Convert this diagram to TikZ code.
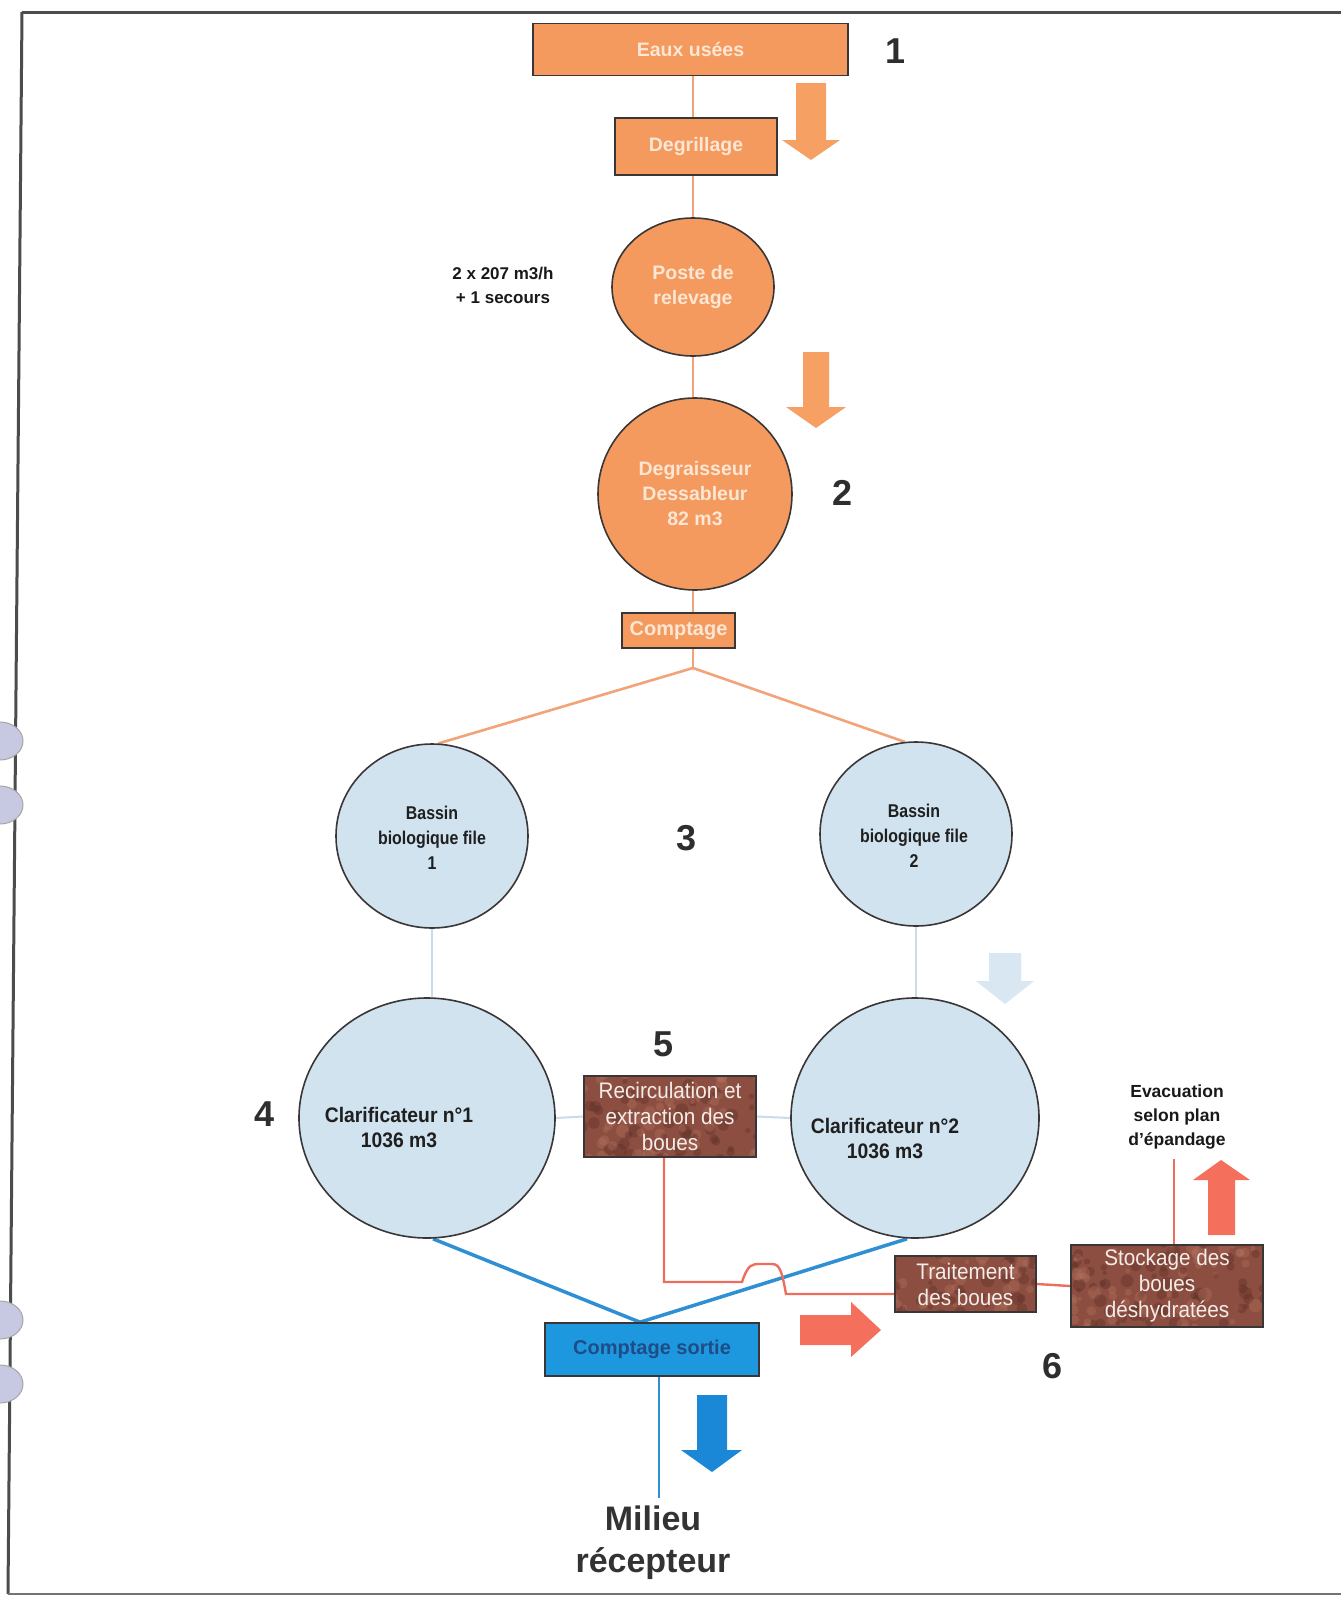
\documentclass[tikz,border=0pt]{standalone}
\usepackage{fontspec}
\setmainfont{Liberation Sans}
\newfontfamily\condf[FakeStretch=0.86]{Liberation Sans}
\newfontfamily\condg[FakeStretch=0.92]{Liberation Sans}
\usetikzlibrary{shapes.geometric,calc}
\pgfdeclarelayer{bg}
\pgfdeclarelayer{paper}
\pgfsetlayers{paper,bg,main}

\definecolor{org}{HTML}{F49A5E}
\definecolor{orgline}{HTML}{F2A378}
\definecolor{orgtxt}{HTML}{FCE6D4}
\definecolor{orgarrow}{HTML}{F6A064}
\definecolor{lblue}{HTML}{D0E3EF}
\definecolor{lbline}{HTML}{C8DCEA}
\definecolor{lbarrow}{HTML}{D8E7F1}
\definecolor{mblue}{HTML}{2F8FD3}
\definecolor{bblue}{HTML}{1D98DF}
\definecolor{dblue}{HTML}{1F4C86}
\definecolor{barrow}{HTML}{1A88D6}
\definecolor{redl}{HTML}{EE6E5E}
\definecolor{reda}{HTML}{F4705C}
\definecolor{brn}{HTML}{8C4E40}
\definecolor{brnD}{HTML}{5A2C24}
\definecolor{brnL}{HTML}{B57462}
\definecolor{edgec}{HTML}{3A3636}
\definecolor{numc}{HTML}{2E2E2E}
\definecolor{holec}{HTML}{C6C9E1}
\definecolor{framec}{HTML}{4E4B4B}
\definecolor{brtxt}{HTML}{F4ECE8}

\newcommand\fsz[2]{\fontsize{#1}{#2}\selectfont}

\tikzset{
  obox/.style={draw=edgec, line width=1.6pt, fill=org, text=orgtxt, font=\bfseries\fsz{19.5}{23}, inner sep=0pt, align=center},
  ocirc/.style={ellipse, draw=edgec, line width=1.6pt, fill=org, text=orgtxt, font=\bfseries\fsz{19.5}{25}, inner sep=0pt, align=center},
  bcirc/.style={ellipse, draw=edgec, line width=1.6pt, fill=lblue, inner sep=0pt},
  btxt/.style={text=black!88, font=\condf\bfseries\fsz{18.5}{25}, align=center, inner sep=0pt},
  ctxt/.style={text=black!88, font=\condg\bfseries\fsz{21}{25}, align=center, inner sep=0pt},
  brbox/.style={draw=edgec, line width=1.6pt, fill=brn, text=brtxt, font=\condg\fsz{22.5}{26}, align=center, inner sep=0pt,
    path picture={
      \pgfmathsetseed{#1}
      \foreach \i in {1,...,70}{
        \fill[brnD, opacity=0.35] ($(path picture bounding box.center)+({(rnd-0.5)*200},{(rnd-0.5)*95})$) circle[radius={2pt+5pt*rnd}];
        \fill[brnL, opacity=0.35] ($(path picture bounding box.center)+({(rnd-0.5)*200},{(rnd-0.5)*95})$) circle[radius={2pt+5pt*rnd}];
      }}},
  num/.style={font=\bfseries\fsz{36}{40}, text=numc, inner sep=0pt},
  lbl/.style={font=\bfseries\fsz{17.5}{24}, text=black!90, align=center, inner sep=0pt},
  oline/.style={draw=orgline, line width=2.6pt},
  lbl line/.style={draw=lbline, line width=2pt},
  bline/.style={draw=mblue, line width=3.5pt},
  rline/.style={draw=redl, line width=2.4pt},
}

\begin{document}
\begin{tikzpicture}[x=1pt,y=-1pt]
\useasboundingbox (0,0) rectangle (1341,1598);
\begin{pgfonlayer}{paper}
\fill[white] (0,0) rectangle (1341,1598);
\end{pgfonlayer}

% frame
\draw[framec, line width=3pt] (22,12) -- (1341,12);
\draw[framec, line width=3pt] (22,12) -- (8,1594);
\draw[black!55, line width=2pt] (8,1594) -- (1341,1594);
\foreach \yy in {741,805,1320,1384}{
  \filldraw[fill=holec, draw=black!35, line width=1pt] (0,\yy) ellipse[x radius=23, y radius=19];
}

% nodes
\node[obox, minimum width=315pt, minimum height=52pt] (eaux) at (690.5,49.5) {Eaux usées};
\node[obox, minimum width=162pt, minimum height=57pt] (degr) at (696,146.5) {Degrillage};
\node[ocirc, minimum width=162pt, minimum height=138pt] (poste) at (693,287) {Poste de\\relevage};
\node[ocirc, minimum width=194pt, minimum height=192pt] (degra) at (695,494) {Degraisseur\\Dessableur\\82 m3};
\node[obox, font=\bfseries\fsz{20}{23}, minimum width=113pt, minimum height=35pt] (compt) at (678.5,630.5) {Comptage};
\coordinate (branch) at (693,668);

\node[bcirc, minimum width=192pt, minimum height=184pt] (bas1) at (432,836) {};
\node[btxt] (bas1t) at (432,838) {Bassin\\biologique file\\1};
\node[bcirc, minimum width=192pt, minimum height=184pt] (bas2) at (916,834) {};
\node[btxt] (bas2t) at (914,836) {Bassin\\biologique file\\2};

\node[bcirc, minimum width=256pt, minimum height=240pt] (cla1) at (427,1118) {};
\node[ctxt] (cla1t) at (399,1127) {Clarificateur n°1\\1036 m3};
\node[bcirc, minimum width=248pt, minimum height=240pt] (cla2) at (915,1118) {};
\node[ctxt] (cla2t) at (885,1138) {Clarificateur n°2\\1036 m3};

\node[brbox=3, minimum width=172pt, minimum height=81pt] (recirc) at (670,1116.5) {Recirculation et\\extraction des\\boues};
\node[brbox=5, minimum width=141pt, minimum height=56pt] (trait) at (965.5,1284) {Traitement\\des boues};
\node[brbox=9, minimum width=192pt, minimum height=82pt] (stock) at (1167,1286) {Stockage des\\boues\\déshydratées};

\node[draw=edgec, line width=1.6pt, fill=bblue, text=dblue, font=\bfseries\fsz{20}{23}, minimum width=214pt, minimum height=53pt, inner sep=0pt] (csort) at (652,1349.5) {Comptage sortie};

\node[font=\bfseries\fsz{34}{42}, text=black!80, align=center, inner sep=0pt] (milieu) at (653,1543) {Milieu\\récepteur};
\node[lbl] (evac) at (1177,1117) {Evacuation\\selon plan\\d'épandage};
\node[lbl, font=\bfseries\fsz{17}{24}] (pump) at (503,285) {2 x 207 m3/h\\+ 1 secours};

\node[num] (n1) at (895,51) {1};
\node[num] (n2) at (842,493) {2};
\node[num] (n3) at (687,838) {3};
\node[num] (n4) at (265,1114) {4};
\node[num] (n5) at (664,1044) {5};
\node[num] (n6) at (1052,1366) {6};

% connectors (behind nodes)
\begin{pgfonlayer}{bg}
  \draw[oline] (poste.center |- eaux.south) -- (branch);
  \draw[oline] (branch) -- (bas1.86);
  \draw[oline] (branch) -- (bas2.97);
  \draw[lbl line] (bas1.south) -- (bas1.south |- cla1.north);
  \draw[lbl line] (bas2.south) -- (bas2.south |- cla2.north);
  \draw[lbl line] (cla1.east) -- (recirc.west);
  \draw[lbl line] (recirc.east) -- (cla2.west);
  \draw[bline] ([xshift=6pt]cla1.south) -- ([xshift=-12pt]csort.north);
  \draw[bline] ([xshift=-8pt]cla2.south) -- ([xshift=-12pt]csort.north);
  \draw[draw=mblue, line width=2.4pt] ([xshift=7pt]csort.south) -- ++(0,121);
  \draw[rline] ([xshift=-6pt]recirc.south) |- (742,1282)
     .. controls (748,1264) and (752,1264) .. (760,1264) -- (772,1264)
     .. controls (780,1264) and (782,1272) .. (786,1294) -- (trait.west |- 0,1294);
  \draw[rline] (trait.east) -- (stock.west);
  \draw[rline] ([xshift=7pt]stock.north) -- ++(0,-85);
\end{pgfonlayer}

% block arrows
\fill[orgarrow] (796,83) -- (826,83) -- (826,140) -- (840,140) -- (811,160) -- (782,140) -- (796,140) -- cycle;
\fill[orgarrow] (803,352) -- (829,352) -- (829,407) -- (846,407) -- (816,428) -- (786,407) -- (803,407) -- cycle;
\fill[lbarrow] (989,953) -- (1021,953) -- (1021,981) -- (1034,981) -- (1005,1004) -- (976,981) -- (989,981) -- cycle;
\fill[reda] (800,1315) -- (851,1315) -- (851,1302) -- (881,1330) -- (851,1357) -- (851,1345) -- (800,1345) -- cycle;
\fill[reda] (1208,1235) -- (1208,1180) -- (1193,1180) -- (1221,1160) -- (1250,1180) -- (1235,1180) -- (1235,1235) -- cycle;
\fill[barrow] (697,1395) -- (727,1395) -- (727,1450) -- (742,1450) -- (712,1472) -- (681,1450) -- (697,1450) -- cycle;
\end{tikzpicture}
\end{document}
